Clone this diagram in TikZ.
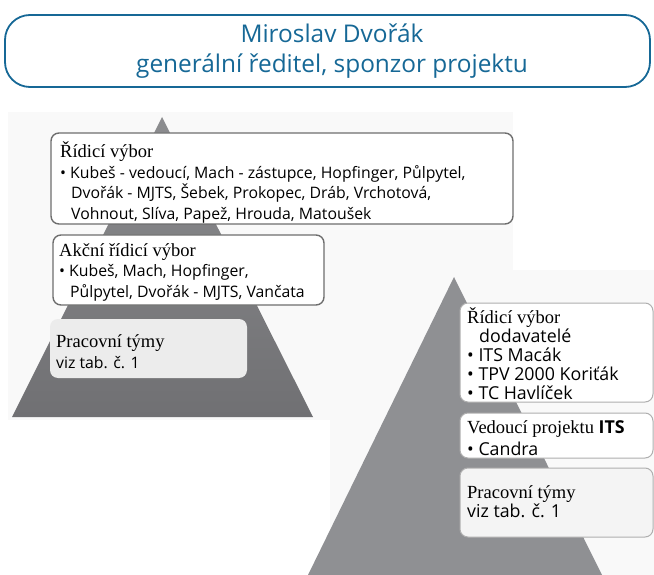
\documentclass[tikz,border=0pt]{standalone}
\usepackage{fontspec}
\setmainfont{Liberation Serif}
\setsansfont{Open Sans}
\usepackage{tikz}

\definecolor{titleblue}{RGB}{22,104,150}
\definecolor{pyrdark}{RGB}{112,112,115}
\definecolor{pyrlight}{RGB}{143,144,147}
\definecolor{boxedge}{RGB}{110,110,110}
\definecolor{boxedgelight}{RGB}{175,175,175}
\definecolor{teamfill}{RGB}{236,236,236}
\definecolor{panel}{RGB}{249,249,249}

\newcommand{\hd}[1]{{\rmfamily\fontsize{18.5}{21}\selectfont #1}}

\tikzset{
  titlebox/.style={draw=titleblue,line width=1.8pt,rounded corners=25pt},
  boardbox/.style={draw=boxedge,line width=1.4pt,fill=white,rounded corners=8pt},
  lightbox/.style={draw=boxedgelight,line width=1pt,fill=white,rounded corners=8pt},
  % anchored at the baseline of the last line
  boxtext/.style={anchor=base west,inner sep=0pt,align=left,
    font=\sffamily\fontsize{15.8}{20.5}\selectfont},
  rboxtext/.style={boxtext,font=\sffamily\fontsize{17.8}{19}\selectfont}
}

\begin{document}
\begin{tikzpicture}[x=1pt,y=-1pt]
  \useasboundingbox (0,0) rectangle (654,575);
  % faint panels behind the pyramids
  \fill[panel] (8,112) rectangle (513,420);
  \fill[panel] (330,270) rectangle (654,575);

  % title
  \draw[titlebox] (5,15) rectangle (650,87);
  \node[inner sep=0pt,align=center,text=titleblue,font=\sffamily\fontsize{24.4}{30}\selectfont]
    (sponzor) at (332,51) {Miroslav Dvořák\\generální ředitel, sponzor projektu};

  % left pyramid
  \shade[top color=pyrlight!80!gray,bottom color=pyrdark] (162,117) -- (313,417) -- (12,417) -- cycle;
  \draw[boardbox] (51,133) rectangle (513,224);
  \draw[boardbox] (53,235) rectangle (324,305);
  \fill[teamfill,rounded corners=8pt] (50,319) rectangle (247,378);

  \node[boxtext] (rizeni) at (60,219) {\hd{Řídicí výbor}\\
    • Kubeš - vedoucí, Mach - zástupce, Hopfinger, Půlpytel,\\
    \hspace*{11pt}Dvořák - MJTS, Šebek, Prokopec, Dráb, Vrchotová,\\
    \hspace*{11pt}Vohnout, Slíva, Papež, Hrouda, Matoušek};
  \node[boxtext] (akcni) at (59,297) {\hd{Akční řídicí výbor}\\
    • Kubeš, Mach, Hopfinger,\\
    \hspace*{11pt}Půlpytel, Dvořák - MJTS, Vančata};
  \node[boxtext] (tymyL) at (56,368) {\hd{Pracovní týmy}\\
    viz tab. č. 1};

  % right pyramid
  \fill[pyrlight] (454,277) -- (602,575) -- (308,575) -- cycle;
  \draw[lightbox] (460,303) rectangle (653,402);
  \draw[lightbox] (460,413) rectangle (653,458);
  \draw[lightbox,fill=teamfill!60!white] (460,468) rectangle (653,537);

  \node[rboxtext] (dodavatel) at (467,399) {\hd{Řídicí výbor}\\
    \hspace*{12pt}dodavatelé\\
    • ITS Macák\\
    • TPV 2000 Koriťák\\
    • TC Havlíček};
  \node[rboxtext,font=\sffamily\fontsize{17.8}{22}\selectfont] (vedouci) at (467,455) {\hd{Vedoucí projektu} \textbf{ITS}\\
    • Candra};
  \node[rboxtext] (tymyR) at (467,517) {\hd{Pracovní týmy}\\
    viz tab. č. 1};
\end{tikzpicture}
\end{document}
